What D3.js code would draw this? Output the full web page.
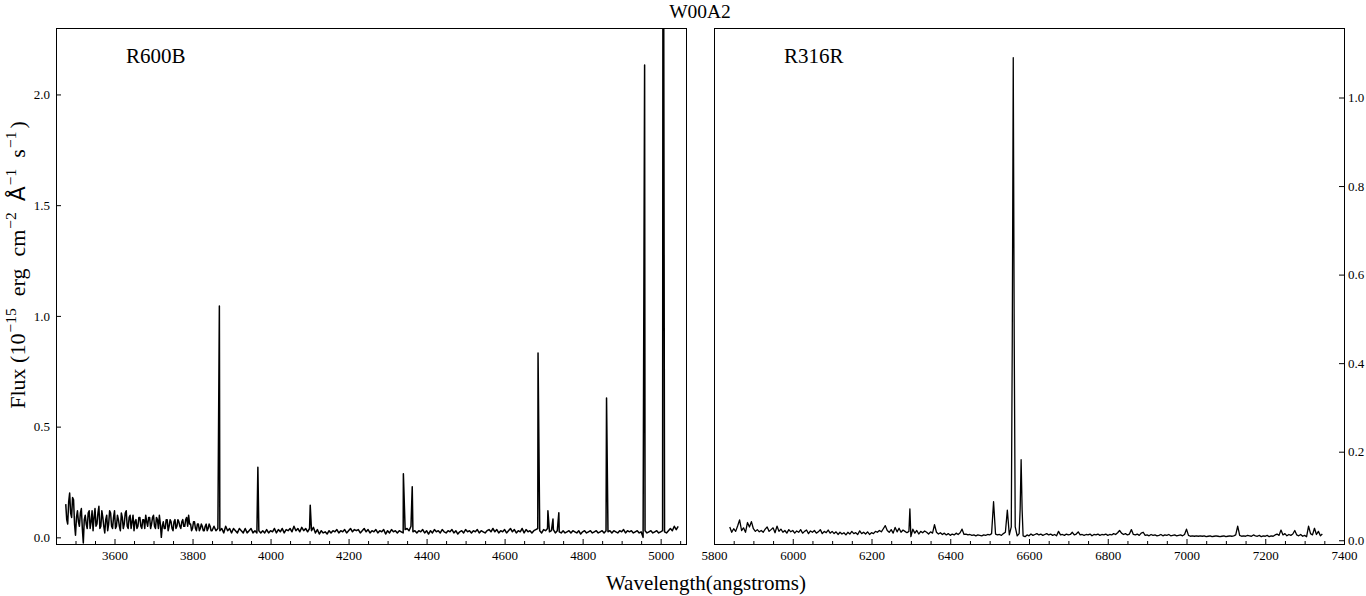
<!DOCTYPE html>
<html><head><meta charset="utf-8">
<script src="https://cdn.jsdelivr.net/npm/d3@7"></script>
<style>body{margin:0;background:#fff}svg{display:block}text{font-family:"Liberation Serif","Times New Roman",serif;fill:#000}</style>
</head><body>
<svg id="chart" width="1366" height="596"></svg>
<script>
// ---------- DATA ----------
const title = "W00A2";
const leftLabel = "R600B";
const rightLabel = "R316R";
const xLabel = "Wavelength(angstroms)";

// R600B continuum, sampled every 5 Å from 3475 Å
const leftStart = 3475, leftStep = 5;
const leftFlux = [
 0.15,0.06,0.20,0.09,0.17,0.01,0.12,0.05,0.13,-0.025,
 0.10,0.04,0.12,0.07,0.03,0.13,0.06,0.14,0.05,0.09,
 0.02,0.10,0.06,0.11,0.04,0.12,0.05,0.08,0.03,0.09,
 0.06,0.12,0.04,0.10,0.07,0.03,0.08,0.05,0.09,0.04,
 0.08,0.10,0.05,0.09,0.06,0.10,0.04,0.08,0.10,0.00,
 0.07,0.04,0.08,0.05,0.07,0.03,0.08,0.05,0.07,0.04,
 0.08,0.05,0.09,0.10,0.06,0.04,0.07,0.03,0.06,0.04,
 0.05,0.03,0.06,0.04,0.05,0.03,0.05,0.03,0.04,0.03,
 0.04,0.02,0.05,0.03,0.04,0.02,0.04,0.03,0.02,0.04,
 0.03,0.02,0.04,0.02,0.03,0.04,0.02,0.03,0.02,0.03,
 0.02,0.03,0.02,0.035,0.02,0.03,0.025,0.04,0.02,0.035,
 0.025,0.04,0.02,0.035,0.03,0.04,0.025,0.05,0.03,0.04,
 0.025,0.045,0.03,0.04,0.025,0.04,0.03,0.045,0.02,0.035,
 0.015,0.03,0.02,0.025,0.015,0.03,0.02,0.03,0.025,0.035,
 0.02,0.03,0.025,0.035,0.02,0.03,0.04,0.025,0.035,0.03,
 0.035,0.02,0.03,0.04,0.025,0.035,0.02,0.03,0.025,0.035,
 0.02,0.03,0.025,0.035,0.015,0.03,0.02,0.035,0.025,0.03,
 0.02,0.03,0.025,0.02,0.035,0.04,0.03,0.05,0.025,0.03,
 0.02,0.03,0.025,0.035,0.02,0.03,0.015,0.03,0.02,0.035,
 0.025,0.03,0.02,0.035,0.025,0.02,0.03,0.025,0.035,0.02,
 0.03,0.015,0.025,0.03,0.02,0.035,0.025,0.03,0.02,0.03,
 0.025,0.035,0.02,0.03,0.025,0.02,0.03,0.035,0.025,0.04,
 0.025,0.035,0.02,0.03,0.025,0.035,0.02,0.03,0.04,0.025,
 0.035,0.02,0.03,0.025,0.04,0.02,0.035,0.025,0.03,0.02,
 0.03,0.035,0.04,0.03,0.02,0.035,0.03,0.04,0.025,0.03,
 0.035,0.02,0.03,0.025,0.02,0.03,0.02,0.025,0.03,0.02,
 0.03,0.025,0.02,0.03,0.015,0.025,0.03,0.02,0.025,0.03,
 0.02,0.025,0.03,0.02,0.025,0.03,0.02,0.03,0.025,0.03,
 0.02,0.03,0.025,0.02,0.03,0.025,0.035,0.02,0.03,0.025,
 0.03,0.02,0.025,0.03,0.02,0.025,0.0,0.03,0.02,0.025,
 0.03,0.02,0.025,0.03,0.02,0.025,0.03,0.025,0.02,0.03,
 0.04,0.03,0.05,0.035,0.05
];
// extra samples between the 5 Å points in the noisy blue end (from 3477.5 Å)
const leftHalfStart = 3477.5;
const leftHalfFlux = [
 0.08,0.16,0.11,0.18,0.06,0.09,0.07,0.11,0.04,0.08,
 0.06,0.11,0.04,0.12,0.09,0.05,0.11,0.04,0.12,0.05,
 0.08,0.03,0.12,0.05,0.09,0.04,0.10,0.05,0.11,0.04,
 0.11,0.05,0.09,0.04,0.10,0.07,0.04,0.09,0.05,0.08,
 0.04,0.07,0.09,0.04,0.09,0.05,0.09,0.04,0.06,0.05,
 0.04,0.08,0.03,0.08,0.04,0.07,0.04,0.08,0.05,0.07,
 0.05,0.08,0.05,0.06,0.03,0.07,0.04,0.06,0.03,0.06,
 0.03,0.05,0.03,0.06,0.03
];
// R600B emission-line samples
const leftLineWave = [3868.8,3967.5,4101.7,4340.5,4363.2,4685.7,4711,4724,4739,4861.3,4958.9,5005.8,5006.8,5007.8];
const leftLineFlux = [1.045,0.317,0.145,0.287,0.228,0.832,0.12,0.083,0.111,0.629,2.133,2.5,6.4,2.5];

// R316R continuum, sampled every 5 Å from 5840 Å
const rightStart = 5840, rightStep = 5;
const rightFlux = [
 0.030,0.018,0.026,0.020,0.032,0.046,0.022,0.028,0.018,0.040,
 0.030,0.042,0.026,0.020,0.024,0.019,0.022,0.018,0.025,0.030,
 0.020,0.024,0.028,0.017,0.032,0.020,0.025,0.018,0.022,0.016,
 0.024,0.019,0.022,0.016,0.021,0.018,0.024,0.016,0.020,0.023,
 0.015,0.021,0.018,0.022,0.016,0.019,0.024,0.015,0.020,0.017,
 0.023,0.016,0.020,0.015,0.019,0.013,0.018,0.014,0.017,0.012,
 0.018,0.014,0.020,0.015,0.017,0.013,0.021,0.015,0.018,0.014,
 0.019,0.013,0.017,0.015,0.020,0.018,0.022,0.019,0.026,0.033,
 0.022,0.018,0.024,0.016,0.029,0.019,0.027,0.018,0.023,0.020,
 0.017,0.020,0.008,0.025,0.016,0.022,0.014,0.020,0.017,0.021,
 0.018,0.014,0.019,0.016,0.035,0.018,0.014,0.017,0.013,0.016,
 0.012,0.015,0.011,0.014,0.012,0.016,0.013,0.017,0.025,0.013,
 0.014,0.012,0.013,0.011,0.012,0.010,0.012,0.011,0.010,0.012,
 0.011,0.013,0.012,0.015,0.087,0.014,0.012,0.013,0.011,0.015,
 0.018,0.068,0.012,0.030,1.090,0.030,0.010,0.015,0.182,0.010,
 0.008,0.012,0.010,0.014,0.011,0.013,0.015,0.012,0.014,0.011,
 0.013,0.015,0.012,0.014,0.011,0.013,0.010,0.020,0.012,0.013,
 0.011,0.014,0.012,0.013,0.018,0.012,0.014,0.019,0.012,0.013,
 0.011,0.013,0.012,0.014,0.010,0.013,0.012,0.014,0.011,0.013,
 0.012,0.014,0.011,0.013,0.012,0.015,0.013,0.017,0.022,0.016,
 0.013,0.015,0.012,0.014,0.024,0.013,0.012,0.014,0.011,0.016,
 0.018,0.011,0.012,0.010,0.013,0.011,0.012,0.010,0.011,0.013,
 0.010,0.012,0.011,0.013,0.010,0.011,0.012,0.010,0.011,0.012,
 0.010,0.013,0.025,0.011,0.009,0.010,0.009,0.010,0.009,0.010,
 0.009,0.010,0.008,0.009,0.010,0.008,0.009,0.010,0.009,0.008,
 0.009,0.010,0.008,0.009,0.010,0.009,0.010,0.012,0.032,0.011,
 0.009,0.010,0.009,0.011,0.010,0.009,0.012,0.010,0.009,0.011,
 0.008,0.010,0.009,0.011,0.008,0.010,0.009,0.012,0.014,0.011,
 0.023,0.012,0.015,0.010,0.013,0.011,0.014,0.022,0.012,0.010,
 0.013,0.009,0.011,0.008,0.032,0.015,0.012,0.027,0.013,0.020,
 0.010,0.014
];
const rightLineWave = [6297.5,6557.5,6562.5,6577.5,6582.5];
const rightLineFlux = [0.071,0.45,0.45,0.07,0.07];

// axis domains and ticks
const leftXDomain = [3450, 5065], leftYDomain = [-0.03, 2.30];
const rightXDomain = [5800, 7400], rightYDomain = [-0.0085, 1.157];
const leftXTicks = [3600,3800,4000,4200,4400,4600,4800,5000];
const rightXTicks = [5800,6000,6200,6400,6600,6800,7000,7200,7400];
const leftYTicks = [0.0,0.5,1.0,1.5,2.0];
const rightYTicks = [0.0,0.2,0.4,0.6,0.8,1.0];

// ---------- DRAW ----------
const svg = d3.select("#chart");
const yTop = 28, yBottom = 544;
const L = {x0:56, x1:686}, R = {x0:714, x1:1344};

function series(grids, lw, lf){
  const pts = [];
  grids.forEach(g=>g.flux.forEach((v,i)=>pts.push([g.start+i*g.step, v])));
  lw.forEach((w,i)=>pts.push([w, lf[i]]));
  pts.sort((a,b)=>a[0]-b[0]);
  return pts;
}

function drawPanel(id, P, xDom, yDom, xTicks, yTicks, data, side, label, sw){
  const x = d3.scaleLinear().domain(xDom).range([P.x0, P.x1]);
  const y = d3.scaleLinear().domain(yDom).range([yBottom, yTop]);
  svg.append("clipPath").attr("id", id).append("rect")
    .attr("x", P.x0).attr("y", yTop).attr("width", P.x1-P.x0).attr("height", yBottom-yTop);
  svg.append("path").datum(data)
    .attr("clip-path", `url(#${id})`)
    .attr("fill","none").attr("stroke","#000").attr("stroke-width",sw).attr("stroke-linejoin","round")
    .attr("d", d3.line().x(d=>x(d[0])).y(d=>y(d[1])));
  const minor = d3.range(Math.ceil(xDom[0]/50)*50, xDom[1]+1, 50).filter(v=>v%200!==0);
  svg.append("g").attr("transform",`translate(0,${yBottom})`)
    .call(d3.axisBottom(x).tickValues(minor).tickSize(-3).tickFormat(""))
    .call(g=>g.select(".domain").remove());
  svg.append("g").attr("transform",`translate(0,${yBottom})`)
    .call(d3.axisBottom(x).tickValues(xTicks).tickSize(-5).tickPadding(7).tickFormat(d3.format("d")))
    .call(g=>g.select(".domain").remove())
    .call(g=>g.selectAll("text").attr("font-size",13).attr("font-family","Liberation Serif"));
  if(side==="left"){
    svg.append("g").attr("transform",`translate(${P.x0},0)`)
      .call(d3.axisLeft(y).tickValues(yTicks).tickSize(-5).tickPadding(6).tickFormat(d3.format(".1f")))
      .call(g=>g.select(".domain").remove())
      .call(g=>g.selectAll("text").attr("font-size",13).attr("font-family","Liberation Serif"));
  } else {
    svg.append("g").attr("transform",`translate(${P.x1},0)`)
      .call(d3.axisRight(y).tickValues(yTicks).tickSize(-5).tickPadding(4).tickFormat(d3.format(".1f")))
      .call(g=>g.select(".domain").remove())
      .call(g=>g.selectAll("text").attr("font-size",13).attr("font-family","Liberation Serif"));
  }
  svg.append("rect").attr("x",P.x0+0.5).attr("y",yTop+0.5).attr("width",P.x1-P.x0).attr("height",yBottom-yTop)
    .attr("fill","none").attr("stroke","#000").attr("stroke-width",1);
  svg.append("text").attr("x", P.x0+70).attr("y", 63).attr("font-size",21).text(label);
}

drawPanel("clipL", L, leftXDomain, leftYDomain, leftXTicks, leftYTicks,
  series([{start:leftStart, step:leftStep, flux:leftFlux},{start:leftHalfStart, step:leftStep, flux:leftHalfFlux}],
         leftLineWave, leftLineFlux), "left", leftLabel, 1.5);
drawPanel("clipR", R, rightXDomain, rightYDomain, rightXTicks, rightYTicks,
  series([{start:rightStart, step:rightStep, flux:rightFlux}], rightLineWave, rightLineFlux), "right", rightLabel, 1.3);

svg.append("text").attr("x",700).attr("y",17.5).attr("text-anchor","middle").attr("font-size",19.5).text(title);
svg.append("text").attr("x",706).attr("y",590).attr("text-anchor","middle").attr("font-size",21).text(xLabel);

// y label with superscripts (rotated)
const yl = svg.append("text").attr("transform","translate(25,265) rotate(-90)")
  .attr("text-anchor","middle").attr("font-size",22);
const parts = [
  // text, dx, dy, size, family
  ["Flux (10",0,0,22,null],["\u221215",1,-9,15.5,null],["erg",12,9,22,null],["cm",12,0,22,null],
  ["\u22122",1,-9,15.5,null],["\u00C5",11,9,22,"DejaVu Sans"],["\u22121",1,-9,15.5,null],
  ["s",11,9,22,null],["\u22121",1,-9,15.5,null],[")",3,9,22,null]
];
parts.forEach(p=>{
  const t = yl.append("tspan").attr("dx",p[1]).attr("dy",p[2]).attr("font-size",p[3]).text(p[0]);
  if(p[4]) t.attr("font-family",p[4]);
});
</script>
</body></html>
